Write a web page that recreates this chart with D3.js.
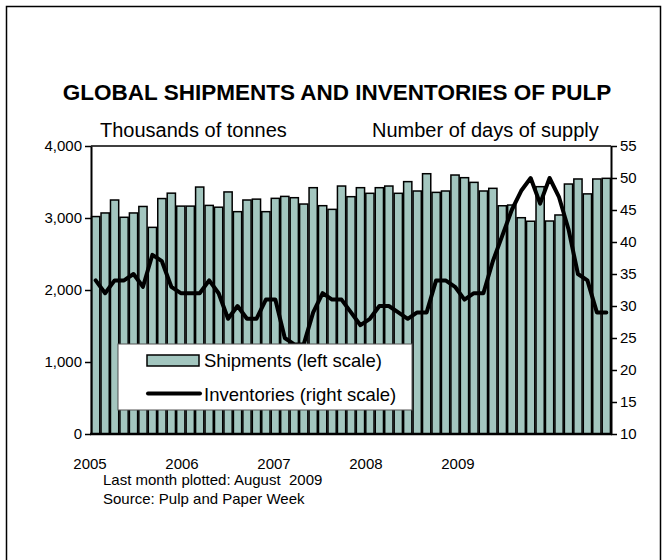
<!DOCTYPE html>
<html>
<head>
<meta charset="utf-8">
<script src="https://cdn.jsdelivr.net/npm/d3@7"></script>
<style>
  body { margin: 0; background: #fff; }
  text { font-family: "Liberation Sans", Arial, sans-serif; fill: #000; }
</style>
</head>
<body>
<div id="chart"></div>
<script>
// monthly data, shipments in thousand tonnes, inventories in days of supply
var shipments = [3020, 3070, 3250, 3010, 3070, 3160, 2870, 3270, 3345, 3165,
                 3165, 3430, 3175, 3150, 3362, 3088, 3250, 3262, 3088, 3273,
                 3300, 3282, 3194, 3421, 3171, 3120, 3444, 3296, 3421, 3343,
                 3421, 3444, 3343, 3505, 3375, 3615, 3356, 3375, 3597, 3560,
                 3495, 3375, 3412, 3170, 3180, 3004, 2955, 3435, 2958, 3042,
                 3472, 3542, 3335, 3542, 3551];
var inventories = [34, 32, 34, 34, 35, 33, 38, 37, 33, 32,
                   32, 32, 34, 32, 28, 30, 28, 28, 31, 31,
                   25, 24, 24, 29, 32, 31, 31, 29, 27, 28,
                   30, 30, 29, 28, 29, 29, 34, 34, 33, 31,
                   32, 32, 37, 41, 45, 48, 50, 46, 50, 47,
                   42, 35, 34, 29, 29];
var yearLabels = ["2005", "2006", "2007", "2008", "2009"];
var leftTicks = [0, 1000, 2000, 3000, 4000];
var rightTicks = [10, 15, 20, 25, 30, 35, 40, 45, 50, 55];

(function(){
var width = 667, height = 560;
var pLeft = 91, pRight = 611, pTop = 146, pBottom = 434;

var svg = d3.select("#chart").append("svg")
    .attr("width", width)
    .attr("height", height);

svg.append("rect")
    .attr("x", 6.5).attr("y", 6.5)
    .attr("width", 654).attr("height", 600)
    .attr("fill", "#fff")
    .attr("stroke", "#000")
    .attr("stroke-width", 1.5);

var x = d3.scaleBand()
    .domain(d3.range(shipments.length))
    .range([pLeft, pRight])
    .paddingInner(0.13)
    .paddingOuter(0.06);

var yL = d3.scaleLinear().domain([0, 4000]).range([pBottom, pTop]);
var yR = d3.scaleLinear().domain([10, 55]).range([pBottom, pTop]);

// bars
svg.append("g").selectAll("rect")
    .data(shipments)
    .enter()
    .append("rect")
    .attr("x", function(d, i){ return x(i); })
    .attr("y", function(d){ return yL(d); })
    .attr("width", x.bandwidth())
    .attr("height", function(d){ return yL(0) - yL(d); })
    .attr("fill", "#a3c6bf")
    .attr("stroke", "#000")
    .attr("stroke-width", 1.5);

// top frame line
svg.append("line")
    .attr("x1", pLeft).attr("x2", pRight)
    .attr("y1", pTop).attr("y2", pTop)
    .attr("stroke", "#000")
    .attr("stroke-width", 1.5);

// inventories line
var line = d3.line()
    .x(function(d, i){ return x(i) + x.bandwidth() / 2; })
    .y(function(d){ return yR(d); });

svg.append("path")
    .datum(inventories)
    .attr("d", line)
    .attr("fill", "none")
    .attr("stroke", "#000")
    .attr("stroke-width", 4)
    .attr("stroke-linejoin", "round")
    .attr("stroke-linecap", "round");

// axes
var axL = svg.append("g")
    .attr("transform", "translate(" + pLeft + ",0)")
    .call(d3.axisLeft(yL).tickValues(leftTicks).tickFormat(d3.format(",")).tickSize(6).tickSizeOuter(0));
var axR = svg.append("g")
    .attr("transform", "translate(" + pRight + ",0)")
    .call(d3.axisRight(yR).tickValues(rightTicks).tickSize(6).tickSizeOuter(0));
[axL, axR].forEach(function(ax){
    ax.select(".domain").attr("stroke", "#000").attr("stroke-width", 2);
    ax.selectAll(".tick line").attr("stroke", "#000").attr("stroke-width", 1.5);
    ax.selectAll(".tick text").attr("font-size", 15).attr("font-family", "Liberation Sans, Arial, sans-serif");
});
axL.selectAll(".tick text").attr("x", -9);
axR.selectAll(".tick text").attr("x", 9);

svg.append("line")
    .attr("x1", pLeft - 1).attr("x2", pRight + 1)
    .attr("y1", pBottom).attr("y2", pBottom)
    .attr("stroke", "#000")
    .attr("stroke-width", 2.5);

// year labels (spaced about 9.73 months apart in the original)
var xm = d3.scaleLinear().domain([0, shipments.length]).range([pLeft, pRight]);
svg.append("g").selectAll("text")
    .data(yearLabels)
    .enter()
    .append("text")
    .attr("x", function(d, i){ return xm(i * 9.73) - 1; })
    .attr("y", 469)
    .attr("text-anchor", "middle")
    .attr("font-size", 15)
    .text(function(d){ return d; });

// titles
svg.append("text")
    .attr("x", 337).attr("y", 100)
    .attr("text-anchor", "middle")
    .attr("font-size", 22.5)
    .attr("font-weight", "bold")
    .text("GLOBAL SHIPMENTS AND INVENTORIES OF PULP");
svg.append("text")
    .attr("x", 100).attr("y", 137)
    .attr("font-size", 20)
    .text("Thousands of tonnes");
svg.append("text")
    .attr("x", 372).attr("y", 137)
    .attr("font-size", 20)
    .text("Number of days of supply");

// legend
var lg = svg.append("g");
lg.append("rect")
    .attr("x", 118).attr("y", 344)
    .attr("width", 294).attr("height", 66)
    .attr("fill", "#fff")
    .attr("stroke", "#555")
    .attr("stroke-width", 1);
lg.append("rect")
    .attr("x", 147).attr("y", 355)
    .attr("width", 52).attr("height", 11)
    .attr("fill", "#a3c6bf")
    .attr("stroke", "#000")
    .attr("stroke-width", 1.5);
lg.append("text")
    .attr("x", 204).attr("y", 367)
    .attr("font-size", 18.5)
    .text("Shipments (left scale)");
lg.append("line")
    .attr("x1", 148).attr("x2", 200)
    .attr("y1", 393.5).attr("y2", 393.5)
    .attr("stroke", "#000")
    .attr("stroke-width", 4)
    .attr("stroke-linecap", "round");
lg.append("text")
    .attr("x", 204).attr("y", 401)
    .attr("font-size", 18.5)
    .text("Inventories (right scale)");

// footer
svg.append("text")
    .attr("x", 103).attr("y", 485)
    .attr("font-size", 15)
    .text("Last month plotted: August  2009")
    .style("white-space", "pre");
svg.append("text")
    .attr("x", 103).attr("y", 504)
    .attr("font-size", 15)
    .text("Source: Pulp and Paper Week");
})();
</script>
</body>
</html>
